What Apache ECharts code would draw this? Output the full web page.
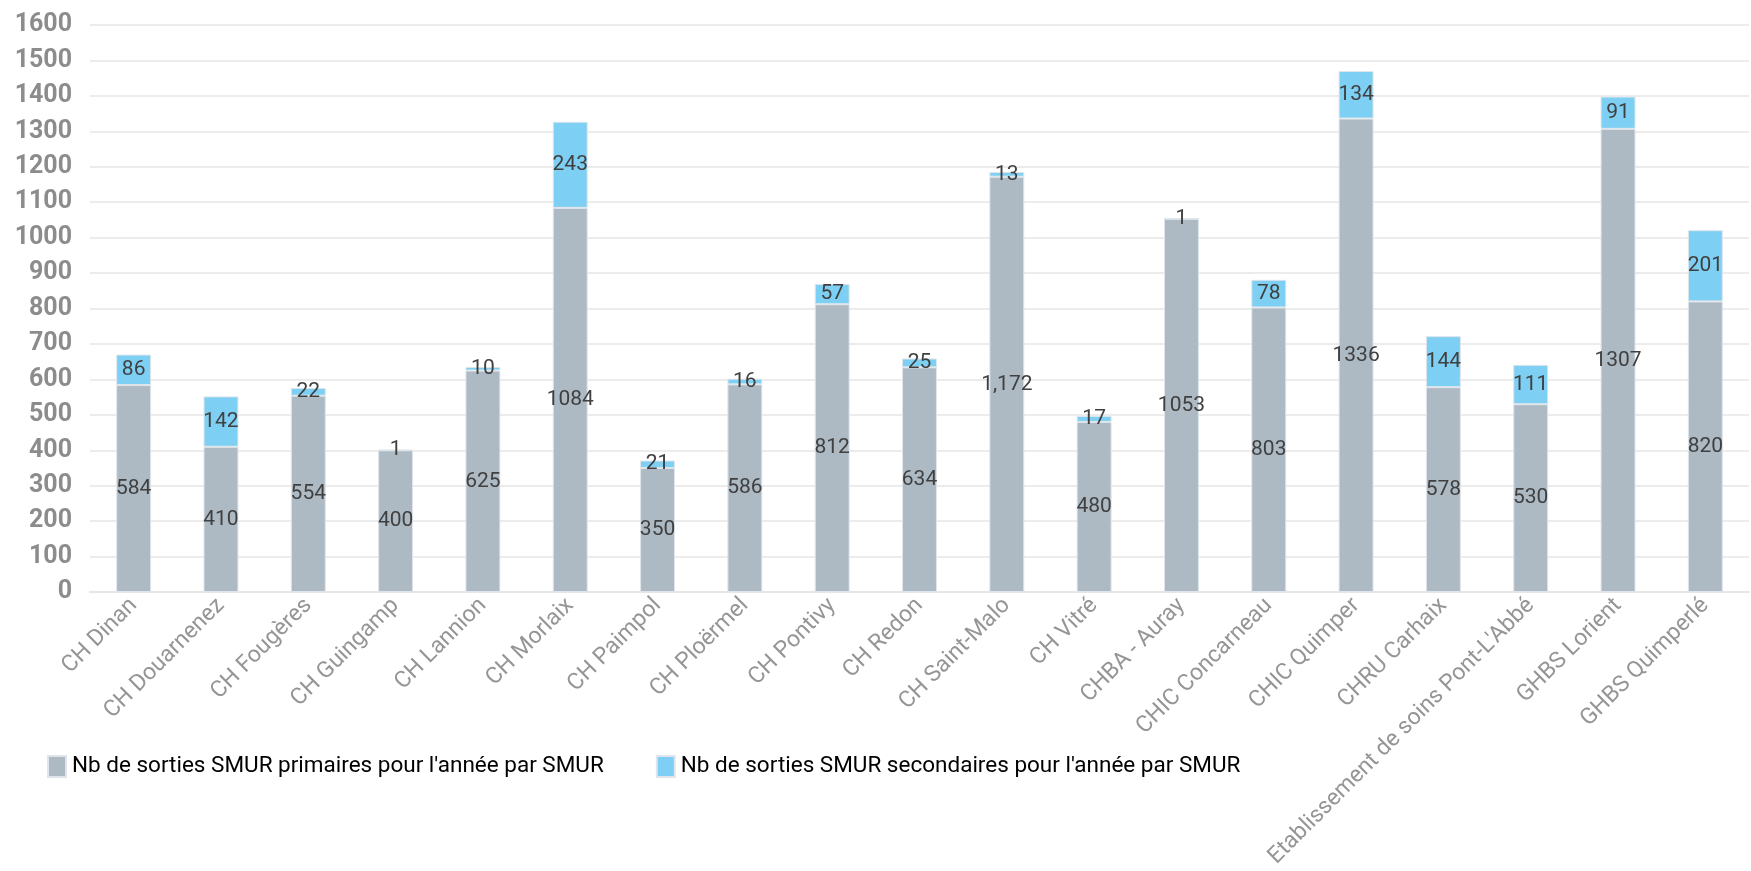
<!DOCTYPE html>
<html>
<head>
<meta charset="utf-8">
<script src="https://cdn.jsdelivr.net/npm/echarts@6/dist/echarts.min.js"></script>
<style>
  html, body { margin: 0; padding: 0; background: #ffffff; }
  #chart { width: 1751px; height: 871px; }
</style>
</head>
<body>
<div id="chart"></div>
<script>
const categories = ["CH Dinan", "CH Douarnenez", "CH Fougères", "CH Guingamp", "CH Lannion", "CH Morlaix", "CH Paimpol", "CH Ploërmel", "CH Pontivy", "CH Redon", "CH Saint-Malo", "CH Vitré", "CHBA - Auray", "CHIC Concarneau", "CHIC Quimper", "CHRU Carhaix", "Etablissement de soins Pont-L'Abbé", "GHBS Lorient", "GHBS Quimperlé"];
const primaryValues = [584, 410, 554, 400, 625, 1084, 350, 586, 812, 634, 1172, 480, 1053, 803, 1336, 578, 530, 1307, 820];
const secondaryValues = [86, 142, 22, 1, 10, 243, 21, 16, 57, 25, 13, 17, 1, 78, 134, 144, 111, 91, 201];
const primaryLabelText = ["584", "410", "554", "400", "625", "1084", "350", "586", "812", "634", "1,172", "480", "1053", "803", "1336", "578", "530", "1307", "820"];
const seriesNames = ["Nb de sorties SMUR primaires pour l'année par SMUR", "Nb de sorties SMUR secondaires pour l'année par SMUR"];
const yTicks = { min: 0, max: 1600, interval: 100 };

const chart = echarts.init(document.getElementById('chart'), null, { renderer: 'canvas' });
const labelStyle = {
  show: true,
  position: 'inside',
  color: '#404040',
  fontFamily: 'Roboto',
  fontSize: 21
};
chart.setOption({
  animation: false,
  backgroundColor: '#ffffff',
  grid: { left: 90, right: 2, top: 25, bottom: 279, containLabel: false },
  legend: {
    left: 42,
    top: 750,
    itemWidth: 18,
    itemHeight: 21,
    itemGap: 52,
    icon: 'rect',
    textStyle: { color: '#000000', fontFamily: 'Roboto', fontSize: 22.5, padding: [0, 0, 0, 1] },
    data: seriesNames
  },
  xAxis: {
    type: 'category',
    data: categories,
    axisLine: { show: true, lineStyle: { color: '#e6e6e6', width: 2 } },
    axisTick: { show: false },
    axisLabel: {
      rotate: 45,
      interval: 0,
      margin: 10,
      color: '#959595',
      fontFamily: 'Roboto',
      fontSize: 23
    }
  },
  yAxis: {
    type: 'value',
    min: yTicks.min,
    max: yTicks.max,
    interval: yTicks.interval,
    axisLine: { show: false },
    axisTick: { show: false },
    splitLine: { lineStyle: { color: '#e6e6e6', width: 1.5 } },
    axisLabel: {
      margin: 18,
      color: '#8c8c8c',
      fontFamily: 'Roboto',
      fontWeight: 'bold',
      fontSize: 25,
      formatter: v => String(v)
    }
  },
  series: [
    {
      name: seriesNames[0],
      type: 'bar',
      stack: 'total',
      barWidth: '40%',
      data: primaryValues,
      itemStyle: { color: '#adbac4', borderColor: '#dfe5ea', borderWidth: 1 },
      label: Object.assign({}, labelStyle, { formatter: p => primaryLabelText[p.dataIndex] })
    },
    {
      name: seriesNames[1],
      type: 'bar',
      stack: 'total',
      barWidth: '40%',
      data: secondaryValues,
      itemStyle: { color: '#7dcff3', borderColor: '#dfe5ea', borderWidth: 1 },
      label: labelStyle
    }
  ]
});
</script>
</body>
</html>
